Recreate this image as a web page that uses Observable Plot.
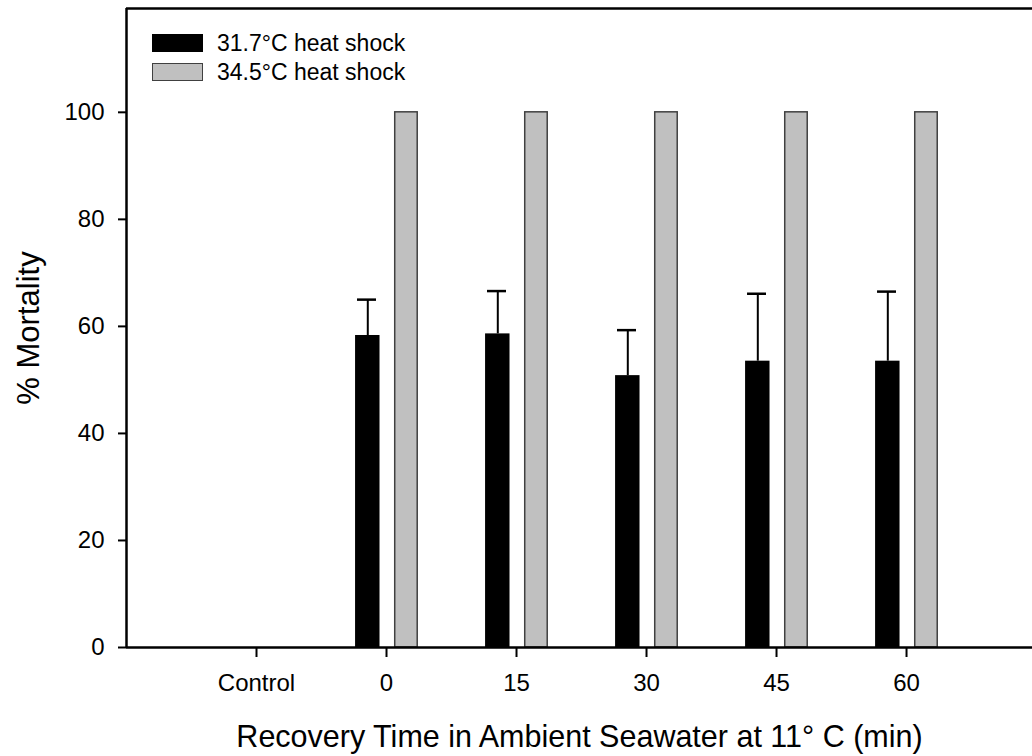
<!DOCTYPE html>
<html><head><meta charset="utf-8">
<script src="https://cdn.jsdelivr.net/npm/d3@7"></script>
<script src="https://cdn.jsdelivr.net/npm/@observablehq/plot@0.6"></script>
<style>
body{margin:0;background:#fff;}
#wrap{position:relative;width:1032px;height:756px;font-family:"Liberation Sans",Arial,sans-serif;}
.legend{position:absolute;left:152px;top:28.5px;}
.row{display:flex;align-items:center;height:29px;font-size:23px;color:#000;}
.sw{width:51px;height:18px;box-sizing:border-box;margin-right:14px;}
</style></head><body><div id="wrap"></div>
<script>
const categories = ["Control", "0", "15", "30", "45", "60"];
const seriesNames = ["31.7°C heat shock", "34.5°C heat shock"];
const mort317 = [0, 58.3, 58.6, 50.8, 53.5, 53.5];
const err317 = [0, 6.7, 8.0, 8.5, 12.6, 13.0];
const mort345 = [0, 100, 100, 100, 100, 100];
const yTicks = [0, 20, 40, 60, 80, 100];
const yMax = 119.4;
const xTitle = "Recovery Time in Ambient Seawater at 11° C (min)";
const yTitle = "% Mortality";
const colors = ["#000000", "#c0c0c0"];

const rows = categories.map((c, i) => ({i, cat: c, m317: mort317[i], e317: err317[i], m345: mort345[i]}));
const font = '"Liberation Sans", Arial, sans-serif';

const chart = Plot.plot({
  width: 1032, height: 756,
  marginLeft: 126, marginRight: 0, marginTop: 8, marginBottom: 109,
  x: {type: "linear", domain: [-1, 5.969]},
  y: {domain: [0, yMax]},
  style: {fontFamily: font, color: "#000", background: "#fff"},
  marks: [
    Plot.rectY(rows.filter(d => d.m317 > 0), {x1: d => d.i - 0.238, x2: d => d.i - 0.05, y1: 0, y2: "m317", fill: colors[0]}),
    Plot.rectY(rows.filter(d => d.m345 > 0), {x1: d => d.i + 0.067, x2: d => d.i + 0.24, y1: 0, y2: "m345", fill: colors[1], stroke: "#404040", strokeWidth: 1.5}),
    Plot.ruleX(rows.filter(d => d.e317 > 0), {x: d => d.i - 0.144, y1: "m317", y2: d => d.m317 + d.e317, stroke: "#000", strokeWidth: 2}),
    Plot.ruleY(rows.filter(d => d.e317 > 0), {y: d => d.m317 + d.e317, x1: d => d.i - 0.223, x2: d => d.i - 0.077, stroke: "#000", strokeWidth: 2.5}),
    Plot.ruleX([-1], {stroke: "#000", strokeWidth: 2.5}),
    Plot.ruleY([0, yMax], {stroke: "#000", strokeWidth: 2.5}),
    Plot.axisY({ticks: yTicks, tickSize: 8, tickPadding: 14, strokeWidth: 2, label: null, fontSize: 24}),
    Plot.axisY({ticks: [], label: yTitle, labelAnchor: "center", labelOffset: 110, labelArrow: false, fontSize: 31}),
    Plot.axisX({ticks: categories.map((c, i) => i), tickFormat: i => categories[i], tickSize: 10, tickPadding: 16, strokeWidth: 2, label: null, fontSize: 24}),
    Plot.axisX({ticks: [], label: xTitle, labelAnchor: "center", labelOffset: 99, labelArrow: false, fontSize: 30.5})
  ]
});

const wrap = document.getElementById("wrap");
wrap.appendChild(chart);
const legend = document.createElement("div");
legend.className = "legend";
seriesNames.forEach((name, k) => {
  const row = document.createElement("div");
  row.className = "row";
  const sw = document.createElement("div");
  sw.className = "sw";
  sw.style.background = colors[k];
  if (k === 1) sw.style.border = "1.5px solid #404040";
  const t = document.createElement("span");
  t.textContent = name;
  row.appendChild(sw); row.appendChild(t);
  legend.appendChild(row);
});
wrap.appendChild(legend);
</script></body></html>
